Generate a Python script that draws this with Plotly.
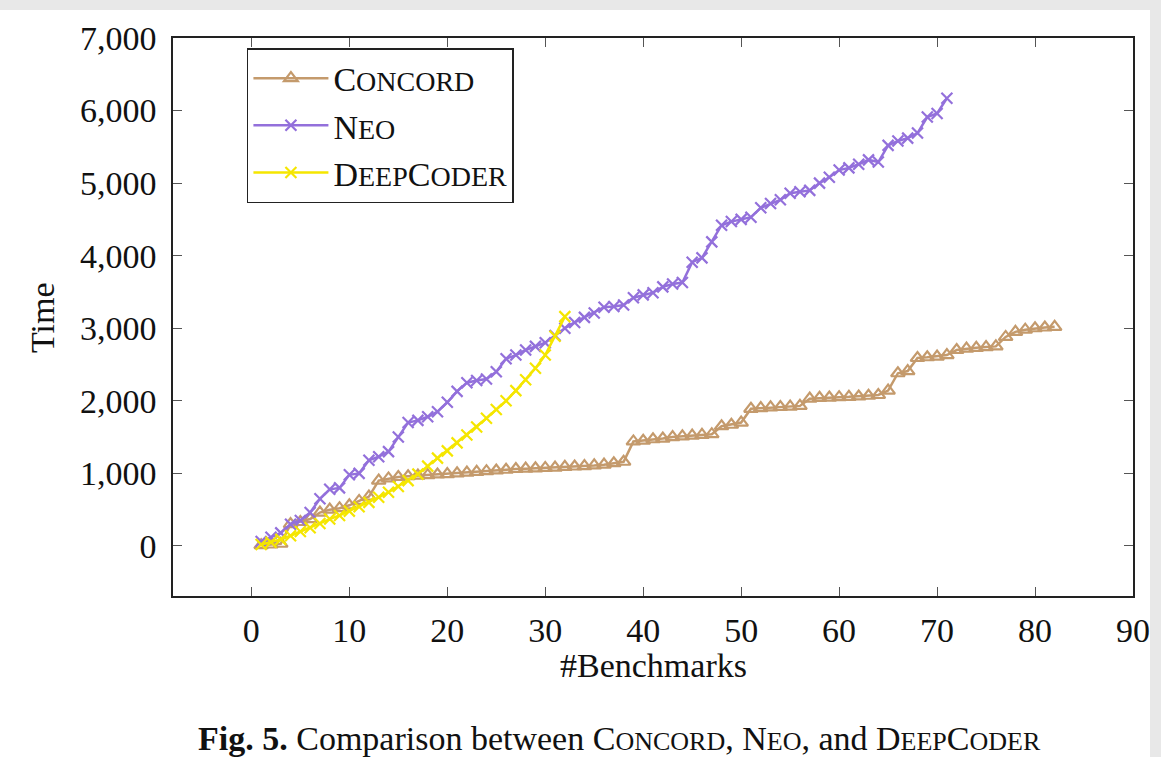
import plotly.graph_objects as go

# ---------------- data ----------------
concord_x = list(range(1, 83))
concord_y = [10, 20, 30, 300, 330, 370, 460, 500, 520, 560,
             620, 680, 900, 930, 950, 960, 970, 975, 985, 990,
             1000, 1010, 1020, 1030, 1040, 1050, 1060, 1065, 1070, 1075,
             1080, 1090, 1095, 1100, 1110, 1120, 1140, 1160, 1440, 1450,
             1470, 1480, 1500, 1510, 1520, 1530, 1540, 1650, 1670, 1700,
             1890, 1900, 1910, 1915, 1920, 1930, 2030, 2040, 2045, 2050,
             2055, 2060, 2070, 2080, 2140, 2380, 2410, 2590, 2600, 2610,
             2630, 2700, 2720, 2730, 2740, 2750, 2880, 2950, 2980, 3000,
             3010, 3020]

neo_x = list(range(1, 72))
neo_y = [60, 120, 180, 300, 350, 460, 650, 780, 800, 980,
         1000, 1180, 1230, 1300, 1500, 1700, 1730, 1780, 1850, 1980,
         2130, 2250, 2280, 2300, 2400, 2580, 2630, 2700, 2750, 2800,
         2900, 3000, 3080, 3150, 3210, 3290, 3300, 3320, 3420, 3460,
         3490, 3570, 3610, 3630, 3910, 3970, 4190, 4420, 4470, 4500,
         4530, 4660, 4720, 4770, 4860, 4880, 4900, 5000, 5080, 5180,
         5210, 5260, 5320, 5290, 5520, 5580, 5620, 5690, 5910, 5960,
         6170]

deep_x = list(range(1, 33))
deep_y = [20, 50, 90, 140, 200, 250, 310, 370, 420, 480,
          540, 600, 670, 740, 820, 900, 990, 1100, 1210, 1310,
          1420, 1530, 1640, 1760, 1880, 2000, 2140, 2290, 2450, 2630,
          2890, 3160]

x_ticks = [0, 10, 20, 30, 40, 50, 60, 70, 80, 90]
y_ticks = [0, 1000, 2000, 3000, 4000, 5000, 6000, 7000]

# ---------------- style ----------------
FONT = "Liberation Serif"
C_CONCORD = "#c49a6c"
C_NEO = "#9370db"
C_DEEP = "#f5e600"


def sc(big, small, size):
    return f"{big}<span style='font-size:{size}px'>{small}</span>"


fig = go.Figure()
fig.add_trace(go.Scatter(
    x=concord_x, y=concord_y, mode="lines+markers",
    name=sc("C", "ONCORD", 28),
    line=dict(color=C_CONCORD, width=2.5),
    marker=dict(symbol="triangle-up-open", size=12, color=C_CONCORD,
                line=dict(width=2.2, color=C_CONCORD)),
))
fig.add_trace(go.Scatter(
    x=neo_x, y=neo_y, mode="lines+markers",
    name=sc("N", "EO", 28),
    line=dict(color=C_NEO, width=2.5),
    marker=dict(symbol="x-thin-open", size=11, color=C_NEO,
                line=dict(width=2.2, color=C_NEO)),
))
fig.add_trace(go.Scatter(
    x=deep_x, y=deep_y, mode="lines+markers",
    name=sc("D", "EEP", 28) + sc("C", "ODER", 28),
    line=dict(color=C_DEEP, width=2.5),
    marker=dict(symbol="x-thin-open", size=11, color=C_DEEP,
                line=dict(width=2.2, color=C_DEEP)),
))

axis_common = dict(
    showgrid=False, zeroline=False, showline=True, linecolor="#222",
    linewidth=1.5, mirror="ticks", ticks="inside", ticklen=9,
    tickwidth=1, tickcolor="#555",
    tickfont=dict(family=FONT, size=34, color="#111"),
)

fig.update_layout(
    width=1161, height=757,
    margin=dict(l=173, r=28, t=38, b=161),
    paper_bgcolor="white", plot_bgcolor="white",
    font=dict(family=FONT, color="#111"),
    xaxis=dict(range=[-8, 90], tickvals=x_ticks, ticklabelstandoff=3,
               **axis_common),
    yaxis=dict(range=[-690, 7000], tickvals=y_ticks, tickformat=",d",
               ticklabelstandoff=8, **axis_common),
    legend=dict(
        x=0.077, y=0.982, xanchor="left", yanchor="top",
        bordercolor="#222", borderwidth=1.5, bgcolor="white",
        font=dict(family=FONT, size=34, color="#111"),
        itemwidth=75, tracegroupgap=0,
    ),
    showlegend=True,
)

fig.add_annotation(text="#Benchmarks", xref="paper", yref="paper",
                   x=0.5, y=-0.124, xanchor="center", yanchor="middle",
                   showarrow=False, font=dict(family=FONT, size=34))
fig.add_annotation(text="Time", xref="paper", yref="paper",
                   x=-0.1365, y=0.5, xanchor="center", yanchor="middle",
                   textangle=-90, showarrow=False,
                   font=dict(family=FONT, size=34))
caption = ("<b>Fig. 5.</b> Comparison between " + sc("C", "ONCORD", 26)
           + ", " + sc("N", "EO", 26) + ", and " + sc("D", "EEP", 26)
           + sc("C", "ODER", 26))
fig.add_annotation(text=caption, xref="paper", yref="paper",
                   x=0.4656, y=-0.2545, xanchor="center", yanchor="middle",
                   showarrow=False, font=dict(family=FONT, size=34))

# light grey screenshot border (top and right)
fig.add_shape(type="rect", xref="paper", yref="paper",
              x0=-0.3, x1=1.1, y0=1.0502, y1=1.2,
              fillcolor="#e8e8e8", line_width=0, layer="below")
fig.add_shape(type="rect", xref="paper", yref="paper",
              x0=1.0177, x1=1.1, y0=-0.4, y1=1.2,
              fillcolor="#e8e8e8", line_width=0, layer="below")

fig.write_html("out.html",
               config={"displayModeBar": False},
               post_script="document.body.style.margin='0';"
                           "document.body.style.overflow='hidden';")
